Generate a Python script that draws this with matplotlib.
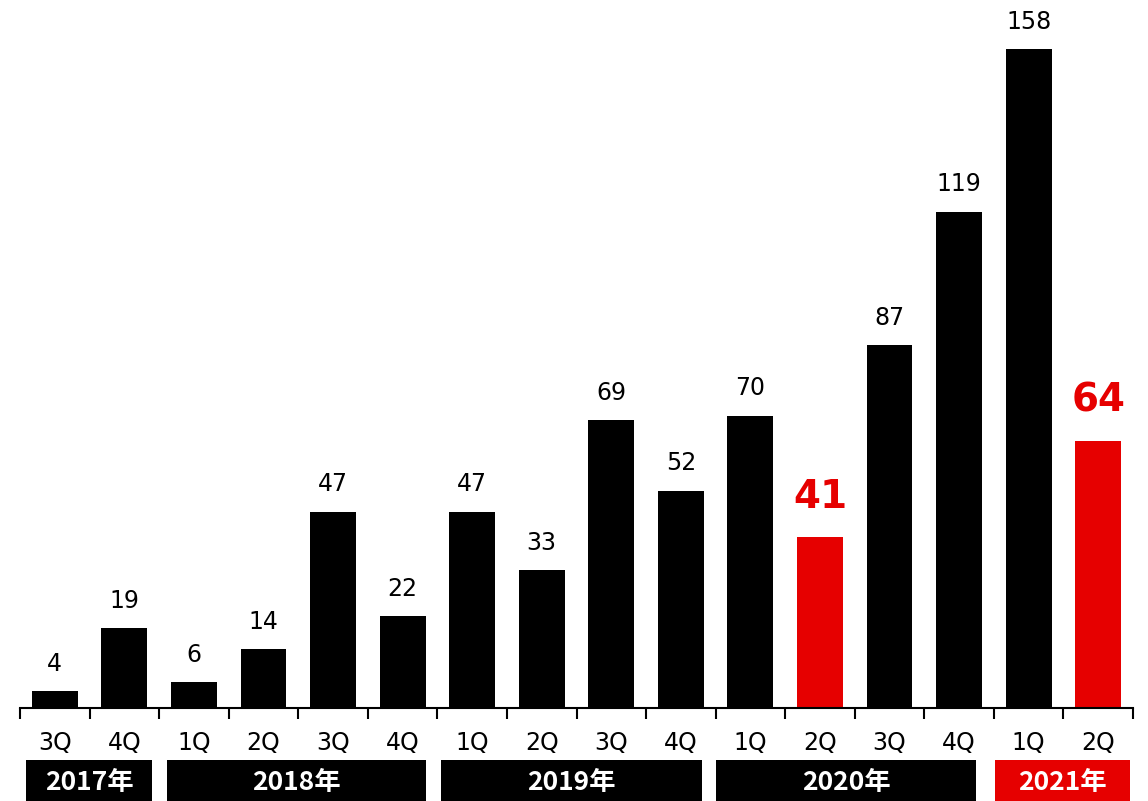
import matplotlib.pyplot as plt
import matplotlib.transforms as mtransforms
from matplotlib.patches import Rectangle

plt.rcParams['font.family'] = ['DejaVu Sans', 'Noto Sans CJK JP']

# データ
quarters = ['3Q', '4Q', '1Q', '2Q', '3Q', '4Q', '1Q', '2Q', '3Q', '4Q',
            '1Q', '2Q', '3Q', '4Q', '1Q', '2Q']
values = [4, 19, 6, 14, 47, 22, 47, 33, 69, 52, 70, 41, 87, 119, 158, 64]
highlight = [11, 15]  # 赤く表示する棒
years = ['2017年', '2018年', '2019年', '2020年', '2021年']
year_spans = [(-0.41, 1.40), (1.61, 5.33), (5.55, 9.30), (9.51, 13.24), (13.52, 15.46)]
year_colors = ['black', 'black', 'black', 'black', '#E60000']

RED = '#E60000'

fig = plt.figure(figsize=(11.48, 8.01), dpi=100)
ax = fig.add_axes([20 / 1148, (801 - 707.5) / 801, 1113 / 1148, 707.5 / 801])

x = list(range(len(values)))
colors = [RED if i in highlight else 'black' for i in x]
ax.bar(x, values, width=0.66, color=colors)

for i, v in enumerate(values):
    if i in highlight:
        ax.annotate(str(v), (i, v), xytext=(0, 15), textcoords='offset points',
                    ha='center', va='bottom', fontsize=28, fontweight='bold', color=RED)
    else:
        ax.annotate(str(v), (i, v), xytext=(0, 11), textcoords='offset points',
                    ha='center', va='bottom', fontsize=17, color='black')

ax.set_xlim(-0.5, len(values) - 0.5)
ax.set_ylim(0, 707.5 / 4.168)

for s in ['top', 'right', 'left']:
    ax.spines[s].set_visible(False)
ax.spines['bottom'].set_linewidth(1.5)
ax.set_yticks([])

ax.set_xticks(x)
ax.set_xticklabels(quarters, fontsize=17)
ax.tick_params(axis='x', which='major', length=0, pad=17)
ax.set_xticks([i - 0.5 for i in range(len(values) + 1)], minor=True)
ax.tick_params(axis='x', which='minor', length=8, width=1.5, direction='out')

# 年の帯
trans = mtransforms.blended_transform_factory(ax.transData, fig.transFigure)
box_h = 41 / 801
for name, (x0, x1), c in zip(years, year_spans, year_colors):
    ax.add_patch(Rectangle((x0, 0), x1 - x0, box_h, transform=trans,
                           facecolor=c, edgecolor='none', clip_on=False))
    ax.text((x0 + x1) / 2, box_h / 2 - 2 / 801, name, transform=trans, ha='center',
            va='center', color='white', fontsize=19, fontweight='bold',
            family=['Noto Sans CJK JP', 'DejaVu Sans'])

fig.savefig('out.png', dpi=100)
